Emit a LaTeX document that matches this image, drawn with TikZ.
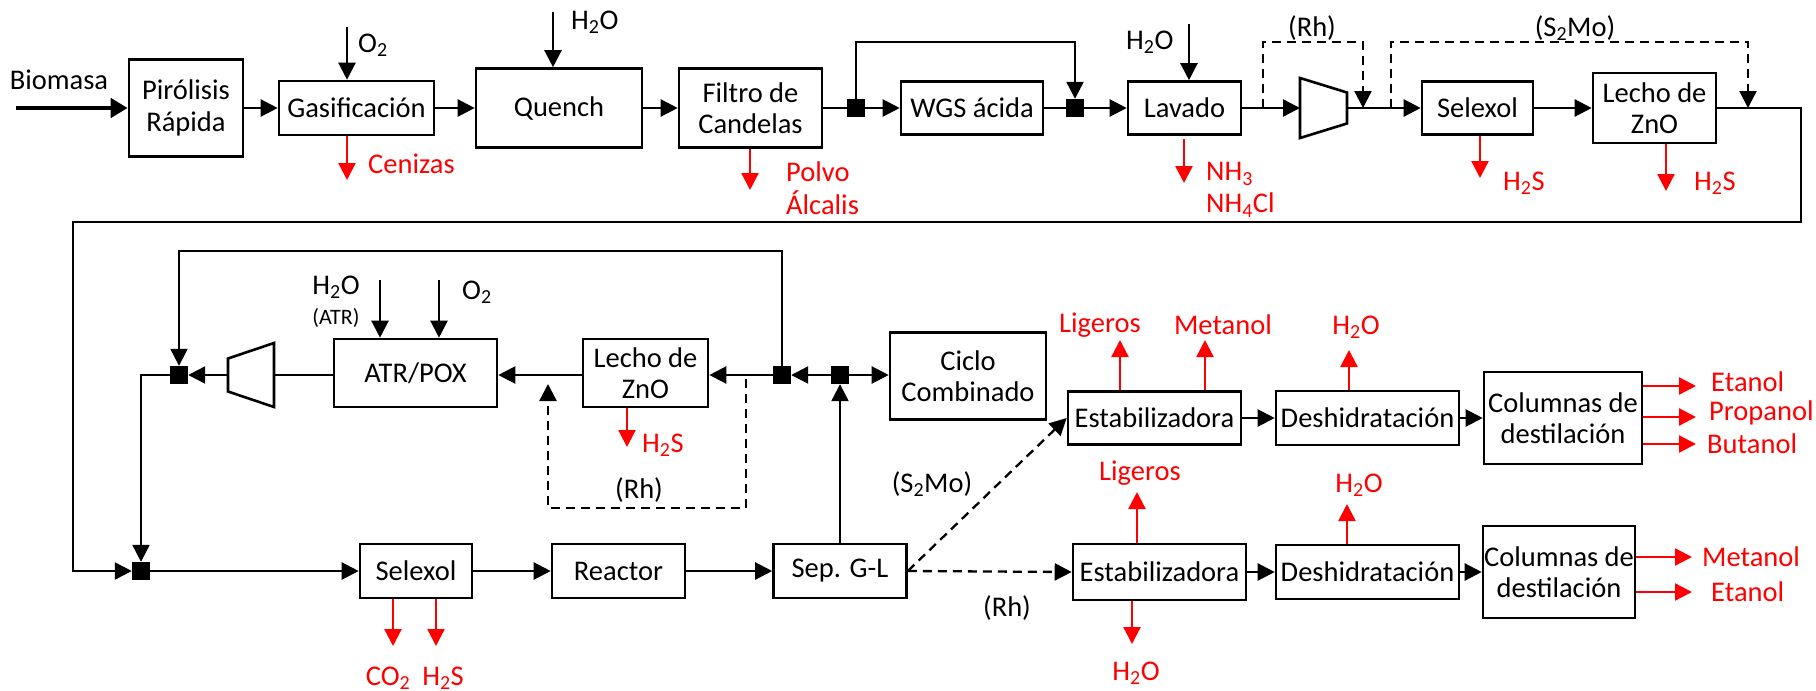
\documentclass[tikz,border=0pt]{standalone}
\usepackage{fontspec}
\setmainfont{Carlito}
\usetikzlibrary{arrows.meta}
\newcommand{\mainf}{\fontsize{28.5}{31.5}\selectfont}
\newcommand{\smallf}{\fontsize{22}{24}\selectfont}
\newcommand{\sbs}[1]{\textsubscript{#1}}
\begin{document}
\begin{tikzpicture}[x=1pt,y=-1pt,
  box/.style={draw, line width=2.6pt, inner sep=0pt, align=center, font=\mainf},
  sqr/.style={fill=black, draw=none, minimum size=18pt, inner sep=0pt},
  arr/.style={line width=2.3pt, -{Triangle[length=17pt,width=17pt]}},
  ln/.style={line width=2.3pt},
  rarr/.style={line width=2.3pt, red, -{Triangle[length=17pt,width=17pt]}},
  darr/.style={line width=2.3pt, dash pattern=on 9pt off 6pt, -{Triangle[length=17pt,width=17pt]}},
  lbl/.style={inner sep=0pt, font=\mainf},
  rlbl/.style={inner sep=0pt, font=\mainf, text=red},
  comp/.style={draw, line width=2.6pt}
]
\useasboundingbox (0,0) rectangle (1816,691);

% ---------------- Row 1 ----------------
\node[box,minimum width=114pt,minimum height=97pt] (pir) at (186,108) {Pirólisis\\Rápida};
\node[box,minimum width=155pt,minimum height=54pt] (gas) at (356.5,108) {Gasificación};
\node[box,minimum width=166pt,minimum height=79pt] (que) at (559,108) {Quench};
\node[box,minimum width=143pt,minimum height=79pt] (fil) at (750.5,108) {Filtro de\\Candelas};
\node[sqr] (sq1) at (856,108) {};
\node[box,minimum width=142pt,minimum height=53pt] (wgs) at (972,108) {WGS ácida};
\node[sqr] (sq2) at (1075,108) {};
\node[box,minimum width=113pt,minimum height=53pt] (lav) at (1184.5,108) {Lavado};
\draw[comp] (1300,78) -- (1347,92.5) -- (1347,123.5) -- (1300,138) -- cycle;
\coordinate (c1l) at (1300,108);
\coordinate (c1r) at (1347,108);
\node[box,minimum width=111pt,minimum height=53pt] (sel1) at (1477.5,108) {Selexol};
\node[box,minimum width=123pt,minimum height=70pt] (lec1) at (1654.5,108) {Lecho de\\ZnO};

% ---------------- Row 2 ----------------
\node[sqr] (sqA) at (179,375) {};
\draw[comp] (228,358.5) -- (274,343) -- (274,407) -- (228,391.5) -- cycle;
\coordinate (c2l) at (228,375);
\coordinate (c2r) at (274,375);
\node[box,minimum width=163pt,minimum height=68pt] (atr) at (415.5,373) {ATR/POX};
\node[box,minimum width=125pt,minimum height=68pt] (lec2) at (645.5,373) {Lecho de\\ZnO};
\node[sqr] (sq3) at (782,375) {};
\node[sqr] (sq4) at (840,375) {};
\node[box,minimum width=156pt,minimum height=87pt] (cic) at (968,376) {Ciclo\\Combinado};
\node[box,minimum width=173pt,minimum height=53pt] (est1) at (1154.5,418) {Estabilizadora};
\node[box,minimum width=183pt,minimum height=54pt] (des1) at (1367.5,418) {Deshidratación};
\node[box,minimum width=158pt,minimum height=92pt] (col1) at (1563,418) {Columnas de\\destilación};

% ---------------- Row 3 ----------------
\node[sqr] (sqB) at (141,571) {};
\node[box,minimum width=112pt,minimum height=54pt] (sel2) at (416,571) {Selexol};
\node[box,minimum width=133pt,minimum height=54pt] (rea) at (618.5,571) {Reactor};
\node[box,minimum width=133pt,minimum height=54pt] (sep) at (840,571) {Sep. G-L};
\node[box,minimum width=173pt,minimum height=56pt] (est2) at (1159.5,572) {Estabilizadora};
\node[box,minimum width=183pt,minimum height=54pt] (des2) at (1367.5,572) {Deshidratación};
\node[box,minimum width=152pt,minimum height=92pt] (col2) at (1559,572) {Columnas de\\destilación};

% ---------------- Row 1 connectors ----------------
\coordinate (bio) at (16,108);
\draw[line width=4.5pt, -{Triangle[length=17pt,width=19pt]}] (bio) -- (pir.west);
\node[lbl] (biot) at (59,80) {Biomasa};
\draw[arr] (pir.east) -- (gas.west);
\draw[arr] (gas.east) -- (que.west);
\draw[arr] (que.east) -- (fil.west);
\draw[ln] (fil.east) -- (sq1.west);
\draw[arr] (sq1.east) -- (wgs.west);
\draw[ln] (wgs.east) -- (sq2.west);
\draw[arr] (sq2.east) -- (lav.west);
\coordinate (bpt) at (0,42);
\draw[arr] (sq1.north) -- (sq1.north |- bpt) -| (sq2.north);
\draw[arr] (lav.east) -- (c1l);
\draw[arr] (c1r) -- (sel1.west);
\draw[arr] (sel1.east) -- (lec1.west);

\coordinate (rha) at (1263,42);
\coordinate (rhb) at (1363,42);
\draw[darr] (rha |- lav.east) -- (rha) -- (rhb) -- (rhb |- c1r);
\node[lbl] (rhtop) at (1312,28) {(Rh)};
\coordinate (s2a) at (1391,42);
\coordinate (s2b) at (1748,42);
\draw[darr] (s2a |- c1r) -- (s2a) -- (s2b) -- (s2b |- lec1.east);
\node[lbl] (s2top) at (1575,28) {(S\sbs{2}Mo)};

% inputs row 1
\coordinate (o2a) at (347,27);
\draw[arr] (o2a) -- (o2a |- gas.north);
\node[lbl,anchor=west] (o2t) at (358,45) {O\sbs{2}};
\coordinate (h2oa) at (553,12);
\draw[arr] (h2oa) -- (h2oa |- que.north);
\node[lbl,anchor=west] (h2oq) at (571,22) {H\sbs{2}O};
\coordinate (h2ob) at (1189,24);
\draw[arr] (h2ob) -- (h2ob |- lav.north);
\node[lbl,anchor=west] (h2ol) at (1126,42) {H\sbs{2}O};

% outputs row 1
\coordinate (cen) at (347,180);
\draw[rarr] (cen |- gas.south) -- (cen);
\node[rlbl,anchor=west] (cent) at (368,164) {Cenizas};
\coordinate (pol) at (750,190);
\draw[rarr] (pol |- fil.south) -- (pol);
\node[rlbl,anchor=west] (polt) at (786,172) {Polvo};
\node[rlbl,anchor=west] (alct) at (786,203) {Álcalis};
\coordinate (nhs) at (1184,139);
\coordinate (nhe) at (1184,183);
\draw[rarr] (nhs) -- (nhe);
\node[rlbl,anchor=west] (nh3) at (1206,174) {NH\sbs{3}};
\node[rlbl,anchor=west] (nh4) at (1206,205) {NH\sbs{4}Cl};
\coordinate (hs1) at (1480,178);
\draw[rarr] (hs1 |- sel1.south) -- (hs1);
\node[rlbl,anchor=west] (hs1t) at (1503,183) {H\sbs{2}S};
\coordinate (hs2) at (1666,191);
\draw[rarr] (hs2 |- lec1.south) -- (hs2);
\node[rlbl,anchor=west] (hs2t) at (1694,183) {H\sbs{2}S};

% long return line
\coordinate (ra) at (1801,222);
\coordinate (la) at (73,222);
\draw[arr] (lec1.east) -| (ra) -- (la) |- (sqB.west);

% ---------------- Row 2 connectors ----------------
\draw[arr] (sq3.west) -- (lec2.east |- sq3.west);
\draw[arr] (lec2.west |- sq3.west) -- (atr.east |- sq3.west);
\draw[ln] (atr.west |- c2r) -- (c2r);
\draw[arr] (c2l) -- (sqA.east);
\draw[arr] (sqA.west) -| (sqB.north);
\coordinate (tl) at (0,251);
\draw[arr] (sq3.north) -- (sq3.north |- tl) -| (sqA.north);
\draw[arr] (sq4.west) -- (sq3.east);
\draw[arr] (sq4.east) -- (cic.west |- sq4.east);
\draw[arr] (sep.north) -- (sq4.south);

\coordinate (h2oc) at (380,280);
\draw[arr] (h2oc) -- (h2oc |- atr.north);
\node[lbl] (h2oat) at (336,287) {H\sbs{2}O};
\node[inner sep=0pt, font=\smallf] (atrt) at (336,318) {(ATR)};
\coordinate (o2b) at (439,280);
\draw[arr] (o2b) -- (o2b |- atr.north);
\node[lbl,anchor=west] (o2bt) at (462,292) {O\sbs{2}};

\coordinate (hs3) at (627,447);
\draw[rarr] (hs3 |- lec2.south) -- (hs3);
\node[rlbl,anchor=west] (hs3t) at (642,445) {H\sbs{2}S};

\coordinate (rl1) at (746,379);
\coordinate (rl2) at (746,508);
\coordinate (rl3) at (548,508);
\coordinate (rl4) at (548,384);
\draw[darr] (rl1) -- (rl2) -- (rl3) -- (rl4);
\node[lbl] (rhmid) at (639,490) {(Rh)};

% ---------------- Row 3 connectors ----------------
\draw[arr] (sqB.east) -- (sel2.west);
\draw[arr] (sel2.east) -- (rea.west);
\draw[arr] (rea.east) -- (sep.west);
\coordinate (co2) at (393,646);
\draw[rarr] (co2 |- sel2.south) -- (co2);
\coordinate (hs4) at (436,646);
\draw[rarr] (hs4 |- sel2.south) -- (hs4);
\node[rlbl] (co2t) at (388,678) {CO\sbs{2}};
\node[rlbl] (hs4t) at (443,678) {H\sbs{2}S};

\draw[darr] (sep.east) -- (est1.west);
\draw[darr] (sep.east) -- (est2.west);
\node[lbl] (s2mid) at (932,484) {(S\sbs{2}Mo)};
\node[lbl] (rhlow) at (1007,608) {(Rh)};

% upper product train
\draw[arr] (est1.east) -- (des1.west);
\draw[arr] (des1.east) -- (col1.west);
\coordinate (lg1) at (1120,340);
\draw[rarr] (lg1 |- est1.north) -- (lg1);
\node[rlbl] (lg1t) at (1100,325) {Ligeros};
\coordinate (mt1) at (1205,340);
\draw[rarr] (mt1 |- est1.north) -- (mt1);
\node[rlbl] (mt1t) at (1223,325) {Metanol};
\coordinate (w1) at (1349,350);
\draw[rarr] (w1 |- des1.north) -- (w1);
\node[rlbl] (w1t) at (1356,327) {H\sbs{2}O};
\coordinate (e1) at (1696,386);
\coordinate (p1) at (1696,417);
\coordinate (b1) at (1696,444);
\draw[rarr] (col1.east |- e1) -- (e1);
\draw[rarr] (col1.east |- p1) -- (p1);
\draw[rarr] (col1.east |- b1) -- (b1);
\node[rlbl,anchor=west] (e1t) at (1711,382) {Etanol};
\node[rlbl,anchor=west] (p1t) at (1709,413) {Propanol};
\node[rlbl,anchor=west] (b1t) at (1707,444) {Butanol};

% lower product train
\draw[arr] (est2.east) -- (des2.west);
\draw[arr] (des2.east) -- (col2.west);
\coordinate (lg2) at (1137,492);
\draw[rarr] (lg2 |- est2.north) -- (lg2);
\node[rlbl] (lg2t) at (1140,473) {Ligeros};
\coordinate (w2) at (1132,644);
\draw[rarr] (w2 |- est2.south) -- (w2);
\node[rlbl] (w2t) at (1136,673) {H\sbs{2}O};
\coordinate (w3) at (1347,504);
\draw[rarr] (w3 |- des2.north) -- (w3);
\node[rlbl] (w3t) at (1359,485) {H\sbs{2}O};
\coordinate (m2) at (1692,557);
\coordinate (e2) at (1692,592);
\draw[rarr] (col2.east |- m2) -- (m2);
\draw[rarr] (col2.east |- e2) -- (e2);
\node[rlbl,anchor=west] (m2t) at (1702,557) {Metanol};
\node[rlbl,anchor=west] (e2t) at (1711,592) {Etanol};
\end{tikzpicture}
\end{document}
